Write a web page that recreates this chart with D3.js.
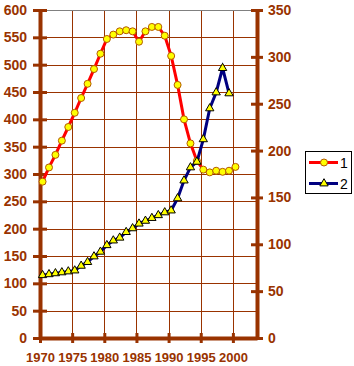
<!DOCTYPE html>
<html>
<head>
<meta charset="utf-8">
<script src="https://cdn.jsdelivr.net/npm/d3@7"></script>
<style>
  body { margin: 0; background: #fff; }
  svg { display: block; }
  .tick text { font-family: "Liberation Sans", Arial, sans-serif; font-weight: bold; font-size: 13px; fill: #993300; }
  .yax .tick text { font-size: 14px; }
</style>
</head>
<body>
<svg id="chart" width="354" height="366"></svg>
<script>
// --- datos ---
const years = [1970, 1971, 1972, 1973, 1974, 1975, 1976, 1977, 1978, 1979,
  1980, 1981, 1982, 1983, 1984, 1985, 1986, 1987, 1988, 1989,
  1990, 1991, 1992, 1993, 1994, 1995, 1996, 1997, 1998, 1999, 2000];
// serie 1 -> eje izquierdo
const series1 = [286, 312, 335, 361, 386, 412, 439, 465, 492, 520,
  547, 555, 561, 563, 561, 542, 561, 569, 569, 553,
  516, 463, 400, 356, 324, 308, 303, 306, 304, 306, 313];
// serie 2 -> eje derecho (termina en 1999)
const series2 = [67, 68, 69, 70, 71, 72, 77, 81, 87, 92,
  99, 104, 107, 113, 117, 122, 125, 128, 131, 134,
  136, 149, 168, 182, 188, 212, 245, 262, 288, 261];
const xTicks = [1970, 1975, 1980, 1985, 1990, 1995, 2000];
const leftTicks = [0, 50, 100, 150, 200, 250, 300, 350, 400, 450, 500, 550, 600];
const rightTicks = [0, 50, 100, 150, 200, 250, 300, 350];
const legendLabels = ['1', '2'];

const brown = '#993300';
const plotL = 40, plotR = 257, plotT = 10, plotB = 338;

const svg = d3.select('#chart');

const x = d3.scaleLinear().domain([1970, 2003.75]).range([plotL, plotR]);
const yL = d3.scaleLinear().domain([0, 600]).range([plotB, plotT]);
const yR = d3.scaleLinear().domain([0, 350]).range([plotB, plotT]);
// los puntos caen un poco después del año exacto
const xShift = 0.4;
const px = yr => x(yr + xShift);

// --- rejilla ---
const grid = svg.append('g');
grid.selectAll('.hg')
  .data(leftTicks.filter(v => v > 0 && v < 600))
  .enter().append('line')
  .attr('x1', plotL).attr('x2', plotR)
  .attr('y1', d => Math.round(yL(d)) + 0.5).attr('y2', d => Math.round(yL(d)) + 0.5)
  .attr('stroke', brown).attr('stroke-width', 1);
grid.selectAll('.vg')
  .data(xTicks.filter(v => v > 1970))
  .enter().append('line')
  .attr('y1', plotT).attr('y2', plotB)
  .attr('x1', d => Math.round(x(d)) + 0.5).attr('x2', d => Math.round(x(d)) + 0.5)
  .attr('stroke', brown).attr('stroke-width', 1);
grid.append('line')
  .attr('x1', plotL).attr('x2', plotR)
  .attr('y1', plotT + 0.5).attr('y2', plotT + 0.5)
  .attr('stroke', '#808080').attr('stroke-width', 1);

// --- ejes ---
function styleAxis(g, crossX, crossY) {
  g.select('.domain').attr('stroke', brown).attr('stroke-width', 4);
  g.selectAll('.tick line').attr('stroke', brown).attr('stroke-width', 3);
  if (crossX) g.selectAll('.tick line').attr('x1', -crossX).attr('x2', crossX);
  if (crossY) g.selectAll('.tick line').attr('y1', -crossY).attr('y2', crossY);
}

svg.append('g')
  .attr('class', 'yax')
  .attr('transform', `translate(${plotL},0)`)
  .call(d3.axisLeft(yL).tickValues(leftTicks).tickSizeOuter(0).tickPadding(7))
  .call(g => styleAxis(g, 7, 0));

svg.append('g')
  .attr('class', 'yax')
  .attr('transform', `translate(${plotR},0)`)
  .call(d3.axisRight(yR).tickValues(rightTicks).tickSizeOuter(0).tickPadding(5))
  .call(g => styleAxis(g, 6, 0));

svg.append('g')
  .attr('transform', `translate(0,${plotB})`)
  .call(d3.axisBottom(x).tickValues(xTicks).tickFormat(d3.format('d')).tickSizeOuter(0).tickPadding(9))
  .call(g => styleAxis(g, 0, 5));

// --- serie 1 ---
const d1 = years.map((yr, i) => ({ yr, v: series1[i] }));
const d2 = years.slice(0, series2.length).map((yr, i) => ({ yr, v: series2[i] }));

svg.append('path')
  .datum(d1)
  .attr('fill', 'none')
  .attr('stroke', '#ff0000')
  .attr('stroke-width', 3)
  .attr('d', d3.line().x(d => px(d.yr)).y(d => yL(d.v)));

svg.selectAll('.c1')
  .data(d1)
  .enter().append('circle')
  .attr('cx', d => px(d.yr))
  .attr('cy', d => yL(d.v))
  .attr('r', 3.5)
  .attr('fill', '#ffff00')
  .attr('stroke', '#b35900')
  .attr('stroke-width', 1);

// --- serie 2 ---
const tri = d3.symbol(d3.symbolTriangle).size(30);

svg.append('path')
  .datum(d2)
  .attr('fill', 'none')
  .attr('stroke', '#000080')
  .attr('stroke-width', 3)
  .attr('d', d3.line().x(d => px(d.yr)).y(d => yR(d.v)));

svg.selectAll('.t2')
  .data(d2)
  .enter().append('path')
  .attr('d', tri)
  .attr('transform', d => `translate(${px(d.yr)},${yR(d.v)})`)
  .attr('fill', '#ffff00')
  .attr('stroke', '#000')
  .attr('stroke-width', 1);

// --- leyenda ---
const legend = svg.append('g');
legend.append('rect')
  .attr('x', 305.5).attr('y', 151.5)
  .attr('width', 46).attr('height', 42)
  .attr('fill', '#fff').attr('stroke', '#000');

const rows = legend.selectAll('.row')
  .data(legendLabels)
  .enter().append('g')
  .attr('transform', (d, i) => `translate(0,${i === 0 ? 162.5 : 183.5})`);

rows.append('line')
  .attr('x1', 309).attr('x2', 338)
  .attr('stroke', (d, i) => i === 0 ? '#ff0000' : '#000080')
  .attr('stroke-width', 3);

rows.filter((d, i) => i === 0).append('circle')
  .attr('cx', 324).attr('r', 3.5)
  .attr('fill', '#ffff00').attr('stroke', '#b35900');
rows.filter((d, i) => i === 1).append('path')
  .attr('d', tri)
  .attr('transform', 'translate(324,0)')
  .attr('fill', '#ffff00').attr('stroke', '#000');

rows.append('text')
  .attr('x', 340).attr('y', 5)
  .attr('font-family', '"Liberation Sans", Arial, sans-serif')
  .attr('font-size', 14)
  .attr('fill', '#000')
  .text(d => d);
</script>
</body>
</html>
